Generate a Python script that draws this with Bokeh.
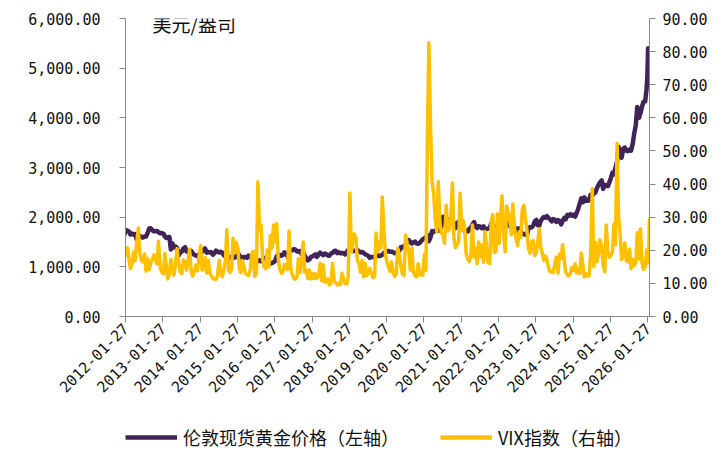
import math
import pandas as pd
from bokeh.plotting import figure
from bokeh.layouts import column
from bokeh.models import (LinearAxis, Range1d, FixedTicker, NumeralTickFormatter,
                          DatetimeTickFormatter, Legend, LegendItem, Label)
from bokeh.embed import file_html
from bokeh.resources import INLINE

# ---------------- data ----------------
x_tick_labels = ["2012-01-27", "2013-01-27", "2014-01-27", "2015-01-27", "2016-01-27",
                 "2017-01-27", "2018-01-27", "2019-01-27", "2020-01-27", "2021-01-27",
                 "2022-01-27", "2023-01-27", "2024-01-27", "2025-01-27", "2026-01-27"]
left_ticks = [0, 1000, 2000, 3000, 4000, 5000, 6000]
right_ticks = [0, 10, 20, 30, 40, 50, 60, 70, 80, 90]
x_start, x_end = "2012-01-27", "2026-02-12"

# semi-monthly samples (1st and 15th of each month) from 2012-01-01 to 2026-01-15
base_start, base_end = "2012-01-01", "2026-01-15"
tail_dates = ["2026-01-22", "2026-01-29", "2026-02-03", "2026-02-12"]

# London spot gold, USD/oz (left axis)
gold = [
    1570, 1640, 1740, 1730, 1710, 1650, 1670, 1650, 1660, 1550, 1620, 1620, 1600, 1590, 1610, 1610, 1690, 1770, 1775, 1740, 1715, 1715, 1720, 1695,  # 2012
    1675, 1680, 1670, 1610, 1580, 1595, 1600, 1350, 1470, 1390, 1410, 1380, 1230, 1290, 1310, 1370, 1395, 1310, 1300, 1275, 1320, 1270, 1240, 1230,  # 2013
    1210, 1245, 1250, 1320, 1330, 1370, 1285, 1300, 1290, 1295, 1245, 1275, 1325, 1305, 1290, 1305, 1285, 1235, 1210, 1240, 1170, 1185, 1205, 1195,  # 2014
    1185, 1260, 1280, 1225, 1210, 1155, 1200, 1200, 1180, 1225, 1190, 1180, 1170, 1150, 1090, 1115, 1135, 1110, 1115, 1180, 1140, 1080, 1065, 1065,  # 2015
    1075, 1090, 1120, 1210, 1240, 1240, 1225, 1235, 1290, 1275, 1210, 1290, 1320, 1330, 1355, 1345, 1310, 1315, 1320, 1255, 1290, 1225, 1170, 1130,  # 2016
    1150, 1200, 1210, 1235, 1250, 1200, 1250, 1285, 1255, 1235, 1270, 1255, 1230, 1225, 1270, 1280, 1320, 1325, 1275, 1295, 1275, 1280, 1275, 1250,  # 2017
    1300, 1340, 1345, 1350, 1320, 1320, 1330, 1345, 1310, 1290, 1300, 1280, 1250, 1240, 1220, 1180, 1200, 1200, 1190, 1225, 1235, 1215, 1225, 1245,  # 2018
    1285, 1290, 1320, 1320, 1305, 1305, 1295, 1275, 1280, 1295, 1325, 1395, 1390, 1420, 1440, 1515, 1540, 1500, 1470, 1495, 1510, 1470, 1465, 1480,  # 2019
    1520, 1555, 1580, 1585, 1640, 1515, 1600, 1720, 1700, 1730, 1730, 1725, 1780, 1805, 2010, 1940, 1970, 1950, 1885, 1905, 1880, 1885, 1780, 1860,  # 2020
    1910, 1840, 1860, 1800, 1720, 1730, 1715, 1765, 1790, 1850, 1900, 1810, 1780, 1820, 1810, 1780, 1815, 1760, 1760, 1770, 1790, 1865, 1780, 1800,  # 2021
    1805, 1820, 1800, 1870, 1940, 2000, 1930, 1975, 1870, 1820, 1850, 1840, 1805, 1705, 1765, 1775, 1710, 1665, 1660, 1650, 1640, 1775, 1800, 1790,  # 2022
    1830, 1915, 1945, 1835, 1830, 1920, 1975, 2005, 1990, 2020, 1980, 1955, 1915, 1960, 1945, 1905, 1940, 1925, 1855, 1920, 1985, 1960, 2045, 2030,  # 2023
    2060, 2030, 2050, 2010, 2085, 2160, 2280, 2380, 2300, 2400, 2330, 2330, 2340, 2450, 2440, 2470, 2500, 2580, 2650, 2700, 2740, 2570, 2650, 2640,  # 2024
    2625, 2700, 2800, 2900, 2860, 2990, 3120, 3420, 3240, 3200, 3380, 3400, 3340, 3330, 3360, 3340, 3480, 3680, 3860, 4220, 4000, 4090, 4230, 4320,  # 2025
    4330, 4600,                                                                                                                                      # 2026
    4830, 5400, 4700, 5050,                                                                                                                          # tail
]

# VIX index (right axis)
vix = [
    23.0, 20.5, 18.5, 20.8, 17.3, 14.5, 16.0, 19.5, 16.8, 22.3, 26.7, 19.0, 17.1, 16.5, 18.9, 13.7, 17.5, 14.2, 16.3, 17.1, 18.6, 17.0, 15.9, 22.7,  # 2012
    14.7, 13.5, 12.9, 19.0, 15.5, 11.3, 13.0, 17.3, 13.5, 12.5, 16.3, 20.5, 16.0, 13.5, 12.9, 17.1, 16.5, 14.0, 16.6, 20.3, 13.3, 12.2, 13.7, 15.5,  # 2013
    13.8, 18.0, 21.4, 14.0, 14.5, 17.8, 13.1, 17.0, 13.3, 12.4, 11.4, 11.5, 11.2, 12.0, 17.0, 13.2, 12.0, 14.1, 16.7, 26.2, 14.0, 13.3, 14.3, 23.6,  # 2014
    19.2, 22.4, 20.5, 14.3, 13.3, 16.9, 15.1, 12.9, 12.7, 12.4, 14.0, 18.9, 19.7, 12.1, 13.0, 40.7, 26.1, 27.6, 17.1, 15.0, 14.5, 20.1, 15.0, 24.4,  # 2015
    20.7, 27.6, 22.5, 28.1, 17.5, 14.5, 13.1, 13.3, 15.7, 15.6, 14.2, 25.8, 14.8, 12.8, 11.5, 11.3, 12.0, 17.5, 13.3, 16.2, 22.5, 13.4, 14.1, 11.5,  # 2016
    14.0, 11.3, 12.9, 11.5, 12.9, 11.6, 12.4, 16.0, 10.8, 15.6, 10.4, 10.4, 11.4, 9.5, 10.3, 16.0, 10.6, 10.2, 9.5, 10.0, 9.7, 13.1, 11.4, 10.0,  # 2017
    9.8, 11.7, 37.3, 19.5, 22.5, 24.9, 23.6, 16.9, 15.9, 13.4, 17.0, 12.0, 16.1, 12.3, 13.2, 14.6, 12.9, 11.7, 12.0, 25.2, 19.5, 22.5, 20.7, 36.1,  # 2018
    25.4, 18.6, 16.1, 14.9, 13.6, 16.5, 13.4, 12.1, 13.1, 20.6, 18.7, 15.3, 12.9, 12.4, 24.6, 22.1, 19.7, 14.0, 20.6, 13.5, 12.3, 12.0, 15.9, 12.5,  # 2019
    13.8, 12.4, 18.8, 14.0, 54.5, 82.7, 57.1, 40.8, 37.2, 29.6, 25.6, 40.8, 28.6, 25.4, 24.5, 22.1, 33.6, 25.8, 26.4, 29.5, 40.3, 23.7, 20.8, 21.6,  # 2020
    22.8, 37.2, 26.0, 28.9, 26.7, 19.0, 17.3, 16.6, 18.6, 27.6, 17.9, 20.7, 16.0, 22.5, 18.0, 21.6, 16.4, 25.7, 21.2, 16.3, 16.0, 28.6, 30.7, 19.3,  # 2021
    19.7, 31.0, 22.1, 30.3, 36.5, 25.7, 19.6, 33.4, 31.2, 29.4, 24.7, 34.0, 26.7, 23.9, 21.4, 25.6, 23.9, 32.3, 33.6, 29.9, 25.8, 20.5, 19.1, 22.6,  # 2022
    22.9, 18.4, 19.4, 22.9, 26.5, 21.0, 18.7, 16.9, 18.3, 17.0, 14.6, 13.5, 13.6, 13.3, 16.1, 17.9, 13.1, 18.9, 17.6, 21.7, 16.9, 13.3, 12.6, 12.3,  # 2023
    13.2, 14.8, 13.9, 15.9, 13.1, 14.4, 13.0, 19.2, 15.4, 12.0, 12.9, 12.2, 12.4, 18.5, 38.6, 15.0, 22.4, 16.5, 19.2, 23.2, 21.0, 15.5, 13.5, 27.6,  # 2024
    19.5, 17.9, 18.6, 19.6, 27.9, 21.7, 52.3, 30.1, 24.7, 17.2, 18.4, 22.2, 16.8, 16.5, 20.4, 14.5, 17.2, 15.3, 16.3, 25.3, 17.4, 26.4, 16.3, 14.2,  # 2025
    15.1, 20.1,                                                                                                                                      # 2026
    16.1, 17.4, 18.0, 29.5,                                                                                                                          # tail
]

# ---------------- build ----------------
dates = pd.date_range(base_start, base_end, freq="SMS").append(pd.to_datetime(tail_dates))
assert len(dates) == len(gold) == len(vix), (len(dates), len(gold), len(vix))

def ms(s):
    return pd.Timestamp(s).value // 10**6

GOLD_C = "#402458"
VIX_C = "#FFC000"
AXIS_C = "#898989"
NUM_FONT = "DejaVu Sans Mono"
CJK_FONT = "Noto Sans CJK SC"
GOLD_LABEL = "伦敦现货黄金价格（左轴）"
VIX_LABEL = "VIX指数（右轴）"

p = figure(width=726, height=414, x_axis_type="datetime",
           x_range=Range1d(ms(x_start), ms(x_end)), y_range=Range1d(0, 6000),
           output_backend="svg", toolbar_location=None,
           min_border_left=125, min_border_right=77, min_border_top=18, min_border_bottom=98)
p.extra_y_ranges = {"vix": Range1d(0, 90)}
p.outline_line_color = None
p.xgrid.visible = False
p.ygrid.visible = False
p.background_fill_color = "white"
p.border_fill_color = "white"

line_kw = dict(line_join="round", line_cap="round")
p.line(dates, gold, line_color=GOLD_C, line_width=4.5, **line_kw)
p.line(dates, vix, y_range_name="vix", line_color=VIX_C, line_width=3.5, **line_kw)

def style(ax, standoff):
    ax.axis_line_color = AXIS_C
    ax.major_tick_line_color = AXIS_C
    ax.major_tick_out = 6
    ax.major_tick_in = 0
    ax.minor_tick_out = 0
    ax.minor_tick_in = 0
    ax.major_label_text_font = NUM_FONT
    ax.major_label_text_font_size = "15px"
    ax.major_label_text_color = "#111111"
    ax.major_label_standoff = standoff

# x axis
xa = p.xaxis[0]
style(xa, 3)
xa.ticker = FixedTicker(ticks=[ms(s) for s in x_tick_labels])
fmt = "%Y-%m-%d"
xa.formatter = DatetimeTickFormatter(milliseconds=fmt, seconds=fmt, minsec=fmt, minutes=fmt,
                                     hourmin=fmt, hours=fmt, days=fmt, months=fmt, years=fmt)
xa.major_label_orientation = math.pi / 4

# left axis
ya = p.yaxis[0]
style(ya, 19)
ya.ticker = FixedTicker(ticks=left_ticks)
ya.formatter = NumeralTickFormatter(format="0,0.00")

# right axis
ra = LinearAxis(y_range_name="vix", ticker=FixedTicker(ticks=right_ticks),
                formatter=NumeralTickFormatter(format="0.00"))
style(ra, 7)
p.add_layout(ra, "right")

# unit label
p.add_layout(Label(x=27, y=293, x_units="screen", y_units="screen", text="美元/盎司",
                   text_font=CJK_FONT, text_font_size="19px", text_baseline="middle",
                   text_color="#111111"))

# ---------------- legend strip (its frame is aligned with the chart's frame) ----------------
q = figure(width=726, height=42, output_backend="svg", toolbar_location=None,
           x_range=Range1d(0, 1), y_range=Range1d(0, 1),
           x_axis_location=None, y_axis_location=None, min_border=0)
q.outline_line_color = None
q.xgrid.visible = False
q.ygrid.visible = False
# the same series, kept outside this strip's view, serve as legend sources
lg = q.line(dates, gold, line_color=GOLD_C, line_width=4.5)
lv = q.line(dates, vix, line_color=VIX_C, line_width=4.5)
legend = Legend(items=[LegendItem(label=GOLD_LABEL, renderers=[lg]),
                       LegendItem(label=VIX_LABEL, renderers=[lv])],
                orientation="horizontal", location=(0, 6),
                label_text_font=CJK_FONT, label_text_font_size="18px", label_text_color="#111111",
                glyph_width=52, glyph_height=18, label_height=18, label_standoff=6,
                spacing=41, padding=0, margin=0, border_line_color=None,
                background_fill_alpha=0)
q.add_layout(legend)

layout = column(p, q, spacing=0)
open("out.html", "w").write(file_html(layout, INLINE))
